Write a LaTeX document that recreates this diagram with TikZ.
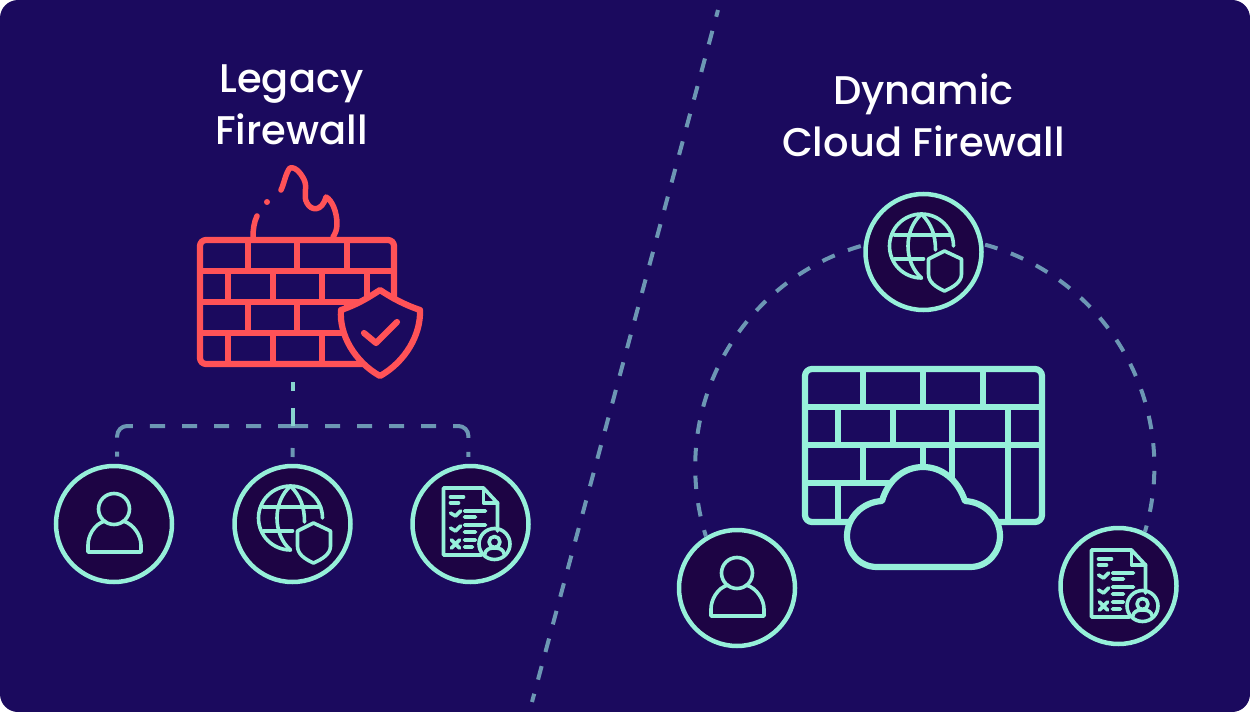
\documentclass[tikz,border=0pt]{standalone}
\usepackage{fontspec}
\setmainfont{Poppins Medium}
\definecolor{bgc}{HTML}{1B0A5E}
\definecolor{inner}{HTML}{1D0444}
\definecolor{mint}{HTML}{96F0DA}
\definecolor{coral}{HTML}{FF5257}
\definecolor{dashc}{HTML}{6C97B4}
\definecolor{trunk}{HTML}{88D4CE}
\tikzset{
  x=1bp,y=-1bp,
  ring/.style={circle,draw=mint,fill=inner,line width=4.5bp,minimum size=116bp,inner sep=0pt},
  dashline/.style={draw=dashc,line width=4bp,dash pattern=on 14bp off 14.6bp},
  arcdash/.style={dashline,dash pattern=on 13.5bp off 14.2bp},
  branch/.style={dashline,rounded corners=10bp,dash pattern=on 15bp off 17bp on 15bp off 17bp on 15bp off 17bp on 15bp off 17bp on 15bp off 17bp on 23bp off 14bp on 5bp off 100bp},
  title/.style={text=white,font=\fontsize{40bp}{48bp}\selectfont,inner sep=0pt,anchor=base},
  ico/.style={draw=mint,line width=3.6bp,line cap=round,line join=round},
  brickr/.style={draw=coral,line width=6.2bp,line join=round},
  brickm/.style={draw=mint,line width=6.2bp,line join=round},
  pics/personicon/.style={code={
    \draw[ico] (0,-15) circle[radius=15.5];
    \draw[ico] (-9,-3) .. controls (-20,0) and (-26,12) .. (-26,21) -- (-26,28) -- (27,28) -- (27,21) .. controls (27,12) and (20,0) .. (9,-3);
  }},
  pics/globeicon/.style={code={
    \draw[ico] (30,-6) arc[start angle=0,end angle=-270,radius=32];
    \draw[ico] (-2,-38) .. controls (-20,-22) and (-20,10) .. (-2,26);
    \draw[ico] (-2,-38) .. controls (8,-28) and (12,-17) .. (12,-2);
    \draw[ico] (-29,-17) -- (28,-17);
    \draw[ico] (-29,7) -- (0,7);
    \draw[ico] (21,-1) -- (38,7) -- (38,22) .. controls (38,30) and (30,35) .. (21,39) .. controls (12,35) and (5,30) .. (5,22) -- (5,7) -- cycle;
  }},
  pics/docicon/.style={code={
    \draw[ico] (11,31) -- (-27,31) -- (-27,-36) -- (13,-36) -- (27,-21) -- (27,7);
    \draw[ico] (13,-36) -- (13,-21) -- (27,-21);
    \draw[ico] (-20,-27) -- (-7,-27) (-20,-21) -- (-12,-21);
    \draw[ico] (-20,-11) -- (-15,-8) -- (-10,-13) (-6,-13) -- (15,-13) (-6,-7) -- (5,-7);
    \draw[ico] (-20,4) -- (-15,7) -- (-10,2) (-6,1) -- (15,1) (-6,8) -- (5,8);
    \draw[ico] (-19,16) -- (-11,24) (-11,16) -- (-19,24) (-6,16) -- (5,16) (-6,23) -- (2,23);
    \draw[ico] (24,20) circle[radius=15.5];
    \draw[ico] (24,18) circle[radius=5.5];
    \draw[ico] (14,31) .. controls (15,25) and (19,24) .. (24,24) .. controls (29,24) and (33,25) .. (34,31);
  }},
}
\begin{document}
\begin{tikzpicture}
\useasboundingbox (0,0) rectangle (1250,712);
\fill[bgc,rounded corners=18bp] (0,0) rectangle (1250,712);
% divider
\coordinate (divtop) at (718,10);
\coordinate (divbot) at (532,702);
\draw[dashline,dash phase=7bp] (divtop) -- (divbot);
% titles
\node[title] (t1) at (291.5,92.7) {Legacy};
\node[title] (t2) at (291.5,144.7) {Firewall};
\node[title] (t3) at (923.5,104.7) {Dynamic};
\node[title] (t4) at (923.5,156.7) {Cloud Firewall};
% left circles
\node[ring] (luser) at (114,524) {};
\node[ring] (lglobe) at (292.5,524) {};
\node[ring] (ldoc) at (470.5,524) {};
\pic at (114,524) {personicon};
\pic at (292.5,524) {globeicon};
\pic at (470.5,524) {docicon};
% legacy wall
\coordinate (wallbase) at (293,382);
\coordinate (hub) at (293,426);
\draw[brickr,rounded corners=6bp] (200,240) rectangle (394,364);
\draw[brickr] (200,271) -- (394,271) (200,302) -- (394,302) (200,333) -- (394,333);
\draw[brickr] (248,240) -- (248,271) (297,240) -- (297,271) (347,240) -- (347,271);
\draw[brickr] (228,271) -- (228,302) (273,271) -- (273,302) (322,271) -- (322,302) (367,271) -- (367,302);
\draw[brickr] (248,302) -- (248,333) (297,302) -- (297,333) (347,302) -- (347,333);
\draw[brickr] (228,333) -- (228,364) (273,333) -- (273,364) (322,333) -- (322,364);
\draw[brickr,line cap=round,line width=5.5bp] (253,237) .. controls (253,230) and (254,222) .. (257,216);
\fill[coral] (267,202) circle[radius=3];
\draw[brickr,line cap=round,line width=5.5bp] (281,190) .. controls (284,184) and (286,172) .. (290,168) .. controls (296,166) and (303,176) .. (305,182) .. controls (307,190) and (303,196) .. (307,203) .. controls (311,211) and (322,212) .. (326,197) .. controls (332,200) and (337,212) .. (337,224) .. controls (337,230) and (335,234) .. (333,237);
\draw[brickr,fill=bgc] (380,290) .. controls (392,298) and (405,305) .. (420,310) .. controls (421,335) and (405,362) .. (380,376) .. controls (355,362) and (339,335) .. (341,310) .. controls (356,305) and (368,298) .. (380,290) -- cycle;
\draw[brickr,line cap=round] (364,333) -- (376,343) -- (397,322);
% legacy connectors
\draw[branch] (hub) -| (luser.87);
\draw[branch] (hub) -| (ldoc.92);
\draw[dashline,dash pattern=on 0bp off 22bp on 9bp off 60bp] (hub) -- (lglobe.north);
\draw[draw=trunk,line width=4bp,dash pattern=on 9bp off 17bp on 18bp off 60bp] (wallbase) -- (hub);
% right circles
\node[ring] (rglobe) at (923.5,252) {};
\node[ring] (ruser) at (737,588) {};
\node[ring] (rdoc) at (1118.5,586) {};
\pic at (923.5,252) {globeicon};
\pic at (737,588) {personicon};
\pic at (1118.5,586) {docicon};
% arcs
\draw[arcdash,dash phase=7bp] (ruser.121) arc[start angle=162.4,end angle=254.3,radius=230];
\draw[arcdash,dash phase=7bp] (rdoc.64) arc[start angle=16.5,end angle=-74.7,radius=230];
% cloud wall
\draw[brickm,rounded corners=7bp] (805,369) rectangle (1042,522);
\draw[brickm] (805,407) -- (1042,407) (805,445) -- (1042,445) (805,483) -- (900,483);
\draw[brickm] (863,369) -- (863,407) (923,369) -- (923,407) (983,369) -- (983,407);
\draw[brickm] (838,407) -- (838,445) (893,407) -- (893,445) (952,407) -- (952,445) (1008,407) -- (1008,522);
\draw[brickm] (863,445) -- (863,483) (923,445) -- (923,480) (952,445) -- (952,490);
\draw[brickm] (838,483) -- (838,522);
\draw[brickm,fill=bgc] (877,567) -- (970,567) .. controls (988,567) and (1000,552) .. (1000,536) .. controls (1000,518) and (985,502) .. (965,501) .. controls (958,480) and (942,467) .. (923,467) .. controls (904,467) and (888,480) .. (882,501) .. controls (862,502) and (847,518) .. (847,536) .. controls (847,552) and (859,567) .. (877,567) -- cycle;
\end{tikzpicture}
\end{document}
